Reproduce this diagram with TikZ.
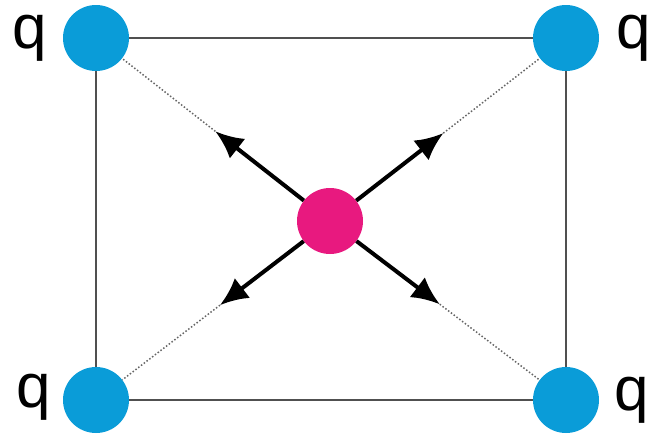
\documentclass[tikz,border=0pt]{standalone}
\usepackage{fontspec}
\setmainfont{Liberation Sans}
\usetikzlibrary{calc,arrows.meta}
\definecolor{qblue}{HTML}{0A9CD8}
\definecolor{qmag}{HTML}{E8197F}
\definecolor{boxgray}{HTML}{505050}
\begin{document}
\begin{tikzpicture}[x=1pt,y=-1pt,
  charge/.style={circle,fill=qblue,minimum size=66pt,inner sep=0pt},
  testq/.style={circle,fill=qmag,minimum size=66pt,inner sep=0pt},
  edge/.style={draw=boxgray,line width=2.8pt},
  force/.style={draw=black,line width=4pt,-{Latex[length=28pt,width=25pt]}},
  guide/.style={draw=gray!80!black,line width=1.5pt,dotted},
  lbl/.style={font=\fontsize{62}{62}\selectfont,anchor=base,inner sep=0pt}]
\useasboundingbox (0,0) rectangle (650,434);
\node[charge] (tl) at (96,38) {};
\node[charge] (tr) at (566,38) {};
\node[charge] (bl) at (96,400) {};
\node[charge] (br) at (566,400) {};
\node[testq] (m) at (330,221) {};
\coordinate (atl) at ($(m.center)!0.49!(tl.center)$);
\coordinate (atr) at ($(m.center)!0.48!(tr.center)$);
\coordinate (abl) at ($(m.center)!0.47!(bl.center)$);
\coordinate (abr) at ($(m.center)!0.465!(br.center)$);
\path[edge] (tl) -- (tr);
\path[edge] (bl) -- (br);
\path[edge] (tl) -- (bl);
\path[edge] (tr) -- (br);
\path[guide] (atl) -- (tl);
\path[guide] (atr) -- (tr);
\path[guide] (abl) -- (bl);
\path[guide] (abr) -- (br);
\path[force] (m) -- (atl);
\path[force] (m) -- (atr);
\path[force] (m) -- (abl);
\path[force] (m) -- (abr);
\node[lbl] (qtl) at (30,48) {q};
\node[lbl] (qtr) at (634,48) {q};
\node[lbl] (qbl) at (34,407) {q};
\node[lbl] (qbr) at (632,410) {q};
\end{tikzpicture}
\end{document}
